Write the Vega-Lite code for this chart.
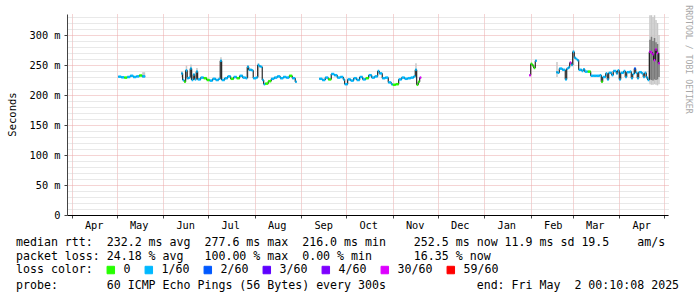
{
  "$schema": "https://vega.github.io/schema/vega-lite/v6.json",
  "width": 601,
  "height": 201,
  "autosize": {"type": "none"},
  "padding": {"left": 67, "top": 14, "right": 29, "bottom": 82},
  "background": "white",
  "config": {"view": {"stroke": null}, "font": "DejaVu Sans Mono"},
  "title": {
    "text": [
      "median\u00a0rtt:\u00a0\u00a0232.2\u00a0ms\u00a0avg\u00a0\u00a0277.6\u00a0ms\u00a0max\u00a0\u00a0216.0\u00a0ms\u00a0min\u00a0\u00a0\u00a0\u00a0252.5\u00a0ms\u00a0now\u00a011.9\u00a0ms\u00a0sd\u00a019.5\u00a0\u00a0\u00a0\u00a0am/s",
      "packet\u00a0loss:\u00a024.18\u00a0%\u00a0avg\u00a0\u00a0\u00a0100.00\u00a0%\u00a0max\u00a0\u00a00.00\u00a0%\u00a0min\u00a0\u00a0\u00a0\u00a0\u00a0\u00a016.35\u00a0%\u00a0now"
    ],
    "subtitle": "probe:\u00a0\u00a0\u00a0\u00a0\u00a0\u00a0\u00a060\u00a0ICMP\u00a0Echo\u00a0Pings\u00a0(56\u00a0Bytes)\u00a0every\u00a0300s\u00a0\u00a0\u00a0\u00a0\u00a0\u00a0\u00a0\u00a0\u00a0\u00a0\u00a0\u00a0\u00a0end:\u00a0Fri\u00a0May\u00a0\u00a02\u00a000:10:08\u00a02025",
    "orient": "bottom",
    "anchor": "start",
    "frame": "group",
    "align": "left",
    "dx": -51,
    "offset": -39,
    "font": "DejaVu Sans Mono",
    "fontSize": 11.6,
    "fontWeight": "normal",
    "color": "#000000",
    "lineHeight": 14.4,
    "subtitleFont": "DejaVu Sans Mono",
    "subtitleFontSize": 11.6,
    "subtitleFontWeight": "normal",
    "subtitleColor": "#000000",
    "subtitleLineHeight": 14.4,
    "subtitlePadding": 17
  },
  "data": {
    "values": [
      {"t": "2024-05-02", "m": 230.5, "c": "1/60", "s": 1},
      {"t": "2024-05-04", "m": 229.5, "c": "1/60", "s": 1},
      {"t": "2024-05-06", "m": 229, "c": "0", "s": 1},
      {"t": "2024-05-08", "m": 230, "c": "1/60", "s": 1},
      {"t": "2024-05-10", "m": 232, "c": "1/60", "s": 1},
      {"t": "2024-05-12", "m": 230, "c": "1/60", "s": 1},
      {"t": "2024-05-14", "m": 231, "c": "1/60", "s": 1},
      {"t": "2024-05-16", "m": 232.5, "c": "0", "s": 1},
      {"t": "2024-05-18", "m": 231, "c": "1/60", "s": 1, "lo": 229, "hi": 238},
      {"t": "2024-05-20", "m": 231, "c": "1/60", "s": 1},

      {"t": "2024-06-13", "m": 236, "c": "1/60", "s": 2, "lo": 230, "hi": 240},
      {"t": "2024-06-14", "m": 225, "c": "1/60", "s": 2},
      {"t": "2024-06-15", "m": 222, "c": "0", "s": 2},
      {"t": "2024-06-16", "m": 241, "c": "1/60", "s": 2, "lo": 226, "hi": 249},
      {"t": "2024-06-17", "m": 228, "c": "1/60", "s": 2},
      {"t": "2024-06-18", "m": 229, "c": "1/60", "s": 2},
      {"t": "2024-06-19", "m": 244, "c": "1/60", "s": 2, "lo": 226, "hi": 251},
      {"t": "2024-06-20", "m": 225, "c": "1/60", "s": 2},
      {"t": "2024-06-21", "m": 234, "c": "1/60", "s": 2},
      {"t": "2024-06-22", "m": 226, "c": "1/60", "s": 2},
      {"t": "2024-06-23", "m": 239, "c": "1/60", "s": 2, "lo": 230, "hi": 245},
      {"t": "2024-06-24", "m": 226, "c": "1/60", "s": 2},
      {"t": "2024-06-26", "m": 229, "c": "1/60", "s": 2},
      {"t": "2024-06-28", "m": 228, "c": "0", "s": 2},
      {"t": "2024-06-30", "m": 225, "c": "0", "s": 2},
      {"t": "2024-07-02", "m": 224, "c": "1/60", "s": 2},
      {"t": "2024-07-04", "m": 227, "c": "1/60", "s": 2},
      {"t": "2024-07-06", "m": 225, "c": "1/60", "s": 2},
      {"t": "2024-07-08", "m": 227, "c": "1/60", "s": 2},
      {"t": "2024-07-09", "m": 257, "c": "1/60", "s": 2, "lo": 226, "hi": 263},
      {"t": "2024-07-10", "m": 225, "c": "1/60", "s": 2},
      {"t": "2024-07-12", "m": 228, "c": "1/60", "s": 2},
      {"t": "2024-07-14", "m": 231, "c": "1/60", "s": 2},
      {"t": "2024-07-16", "m": 227, "c": "0", "s": 2},
      {"t": "2024-07-18", "m": 230, "c": "1/60", "s": 2},
      {"t": "2024-07-20", "m": 228, "c": "0", "s": 2},
      {"t": "2024-07-22", "m": 232, "c": "1/60", "s": 2},
      {"t": "2024-07-24", "m": 229, "c": "1/60", "s": 2},
      {"t": "2024-07-26", "m": 228, "c": "1/60", "s": 2},
      {"t": "2024-07-27", "m": 247, "c": "1/60", "s": 2, "lo": 228, "hi": 250},
      {"t": "2024-07-28", "m": 242, "c": "1/60", "s": 2},
      {"t": "2024-07-30", "m": 241, "c": "1/60", "s": 2},
      {"t": "2024-07-31", "m": 228, "c": "1/60", "s": 2},
      {"t": "2024-08-02", "m": 229, "c": "1/60", "s": 2},
      {"t": "2024-08-03", "m": 250, "c": "1/60", "s": 2, "lo": 230, "hi": 253},
      {"t": "2024-08-04", "m": 248, "c": "1/60", "s": 2},
      {"t": "2024-08-05", "m": 247, "c": "1/60", "s": 2},
      {"t": "2024-08-06", "m": 225, "c": "1/60", "s": 2},
      {"t": "2024-08-07", "m": 218, "c": "1/60", "s": 2},
      {"t": "2024-08-08", "m": 219, "c": "0", "s": 2},
      {"t": "2024-08-10", "m": 223, "c": "0", "s": 2},
      {"t": "2024-08-12", "m": 227, "c": "1/60", "s": 2},
      {"t": "2024-08-14", "m": 229, "c": "1/60", "s": 2},
      {"t": "2024-08-16", "m": 231, "c": "1/60", "s": 2},
      {"t": "2024-08-18", "m": 228, "c": "1/60", "s": 2},
      {"t": "2024-08-20", "m": 230, "c": "1/60", "s": 2},
      {"t": "2024-08-22", "m": 229, "c": "1/60", "s": 2},
      {"t": "2024-08-24", "m": 232, "c": "0", "s": 2},
      {"t": "2024-08-26", "m": 228, "c": "1/60", "s": 2},
      {"t": "2024-08-28", "m": 222, "c": "1/60", "s": 2},
      {"t": "2024-08-29", "m": 222, "c": "1/60", "s": 2},

      {"t": "2024-09-13", "m": 227, "c": "1/60", "s": 3},
      {"t": "2024-09-15", "m": 225, "c": "1/60", "s": 3},
      {"t": "2024-09-17", "m": 229, "c": "1/60", "s": 3},
      {"t": "2024-09-19", "m": 226, "c": "0", "s": 3},
      {"t": "2024-09-21", "m": 235, "c": "1/60", "s": 3},
      {"t": "2024-09-23", "m": 233, "c": "1/60", "s": 3},
      {"t": "2024-09-25", "m": 229, "c": "1/60", "s": 3},
      {"t": "2024-09-27", "m": 230, "c": "1/60", "s": 3},
      {"t": "2024-09-29", "m": 226, "c": "1/60", "s": 3},
      {"t": "2024-09-30", "m": 218, "c": "1/60", "s": 3},
      {"t": "2024-10-02", "m": 226, "c": "1/60", "s": 3},
      {"t": "2024-10-04", "m": 224, "c": "1/60", "s": 3},
      {"t": "2024-10-06", "m": 228, "c": "1/60", "s": 3},
      {"t": "2024-10-08", "m": 225, "c": "1/60", "s": 3},
      {"t": "2024-10-10", "m": 230, "c": "1/60", "s": 3},
      {"t": "2024-10-12", "m": 226, "c": "1/60", "s": 3},
      {"t": "2024-10-14", "m": 228, "c": "0", "s": 3},
      {"t": "2024-10-16", "m": 233, "c": "1/60", "s": 3},
      {"t": "2024-10-18", "m": 229, "c": "1/60", "s": 3},
      {"t": "2024-10-20", "m": 231, "c": "1/60", "s": 3},
      {"t": "2024-10-22", "m": 240, "c": "1/60", "s": 3},
      {"t": "2024-10-23", "m": 236, "c": "1/60", "s": 3},
      {"t": "2024-10-25", "m": 228, "c": "1/60", "s": 3},
      {"t": "2024-10-27", "m": 229, "c": "1/60", "s": 3},
      {"t": "2024-10-29", "m": 221, "c": "1/60", "s": 3},
      {"t": "2024-10-31", "m": 218, "c": "1/60", "s": 3},
      {"t": "2024-11-01", "m": 217, "c": "0", "s": 3},
      {"t": "2024-11-03", "m": 218, "c": "0", "s": 3},
      {"t": "2024-11-05", "m": 226, "c": "1/60", "s": 3},
      {"t": "2024-11-07", "m": 229, "c": "1/60", "s": 3},
      {"t": "2024-11-09", "m": 227, "c": "1/60", "s": 3},
      {"t": "2024-11-11", "m": 228, "c": "1/60", "s": 3},
      {"t": "2024-11-13", "m": 229, "c": "1/60", "s": 3},
      {"t": "2024-11-15", "m": 231, "c": "1/60", "s": 3},
      {"t": "2024-11-16", "m": 242, "c": "1/60", "s": 3, "lo": 228, "hi": 253},
      {"t": "2024-11-17", "m": 217, "c": "0", "s": 3},
      {"t": "2024-11-18", "m": 222, "c": "0", "s": 3},
      {"t": "2024-11-19", "m": 229, "c": "30/60", "s": 3},
      {"t": "2024-11-20", "m": 229, "c": "30/60", "s": 3},

      {"t": "2025-01-31", "m": 233, "c": "30/60", "s": 4},
      {"t": "2025-02-01", "m": 252, "c": "0", "s": 4},
      {"t": "2025-02-02", "m": 249, "c": "0", "s": 4},
      {"t": "2025-02-03", "m": 245, "c": "0", "s": 4},
      {"t": "2025-02-04", "m": 257, "c": "1/60", "s": 4},
      {"t": "2025-02-05", "m": 257, "c": "1/60", "s": 4},

      {"t": "2025-02-18", "m": 238, "c": "1/60", "s": 5, "lo": 230, "hi": 255},
      {"t": "2025-02-19", "m": 237, "c": "1/60", "s": 5},
      {"t": "2025-02-20", "m": 244, "c": "1/60", "s": 5},
      {"t": "2025-02-22", "m": 242, "c": "1/60", "s": 5},
      {"t": "2025-02-24", "m": 226, "c": "1/60", "s": 5},
      {"t": "2025-02-25", "m": 244, "c": "1/60", "s": 5},
      {"t": "2025-02-26", "m": 246, "c": "1/60", "s": 5},
      {"t": "2025-02-27", "m": 254, "c": "30/60", "s": 5},
      {"t": "2025-02-28", "m": 250, "c": "1/60", "s": 5},
      {"t": "2025-03-01", "m": 272, "c": "1/60", "s": 5, "lo": 250, "hi": 275},
      {"t": "2025-03-02", "m": 262, "c": "1/60", "s": 5},
      {"t": "2025-03-03", "m": 260, "c": "1/60", "s": 5},
      {"t": "2025-03-04", "m": 258, "c": "1/60", "s": 5},
      {"t": "2025-03-05", "m": 242, "c": "1/60", "s": 5},
      {"t": "2025-03-07", "m": 240, "c": "1/60", "s": 5},
      {"t": "2025-03-08", "m": 243, "c": "1/60", "s": 5},
      {"t": "2025-03-09", "m": 239, "c": "1/60", "s": 5},
      {"t": "2025-03-11", "m": 239, "c": "0", "s": 5},
      {"t": "2025-03-13", "m": 232, "c": "1/60", "s": 5},
      {"t": "2025-03-15", "m": 232, "c": "1/60", "s": 5},
      {"t": "2025-03-17", "m": 232, "c": "1/60", "s": 5},
      {"t": "2025-03-19", "m": 233, "c": "1/60", "s": 5},
      {"t": "2025-03-20", "m": 222, "c": "0", "s": 5},
      {"t": "2025-03-21", "m": 230, "c": "1/60", "s": 5},
      {"t": "2025-03-23", "m": 236, "c": "1/60", "s": 5},
      {"t": "2025-03-24", "m": 226, "c": "1/60", "s": 5},
      {"t": "2025-03-25", "m": 237, "c": "1/60", "s": 5},
      {"t": "2025-03-27", "m": 233, "c": "1/60", "s": 5},
      {"t": "2025-03-28", "m": 240, "c": "1/60", "s": 5},
      {"t": "2025-03-30", "m": 236, "c": "1/60", "s": 5},
      {"t": "2025-03-31", "m": 241, "c": "1/60", "s": 5},
      {"t": "2025-04-01", "m": 226, "c": "1/60", "s": 5},
      {"t": "2025-04-02", "m": 237, "c": "1/60", "s": 5},
      {"t": "2025-04-04", "m": 240, "c": "1/60", "s": 5},
      {"t": "2025-04-05", "m": 230, "c": "1/60", "s": 5},
      {"t": "2025-04-06", "m": 238, "c": "1/60", "s": 5},
      {"t": "2025-04-08", "m": 239, "c": "1/60", "s": 5},
      {"t": "2025-04-09", "m": 228, "c": "1/60", "s": 5},
      {"t": "2025-04-10", "m": 235, "c": "1/60", "s": 5},
      {"t": "2025-04-11", "m": 244, "c": "2/60", "s": 5},
      {"t": "2025-04-12", "m": 237, "c": "1/60", "s": 5},
      {"t": "2025-04-13", "m": 228, "c": "1/60", "s": 5},
      {"t": "2025-04-14", "m": 238, "c": "1/60", "s": 5},
      {"t": "2025-04-16", "m": 236, "c": "1/60", "s": 5},
      {"t": "2025-04-17", "m": 230, "c": "1/60", "s": 5},
      {"t": "2025-04-18", "m": 237, "c": "1/60", "s": 5},
      {"t": "2025-04-19", "m": 229, "c": "1/60", "s": 5},
      {"t": "2025-04-20", "m": 225, "c": "1/60", "s": 5},
      {"t": "2025-04-21", "m": 272, "c": "30/60", "s": 5, "lo": 218, "hi": 333, "ilo": 226, "ihi": 292},
      {"t": "2025-04-22", "m": 271, "c": "30/60", "s": 5, "lo": 217, "hi": 333, "ilo": 225, "ihi": 297},
      {"t": "2025-04-23", "m": 268, "c": "30/60", "s": 5, "lo": 217, "hi": 330, "ilo": 224, "ihi": 290},
      {"t": "2025-04-24", "m": 258, "c": "30/60", "s": 5, "lo": 218, "hi": 333, "ilo": 226, "ihi": 295},
      {"t": "2025-04-25", "m": 276, "c": "30/60", "s": 5, "lo": 217, "hi": 325, "ilo": 225, "ihi": 288},
      {"t": "2025-04-26", "m": 270, "c": "30/60", "s": 5, "lo": 216, "hi": 320, "ilo": 226, "ihi": 285},
      {"t": "2025-04-27", "m": 253, "c": "30/60", "s": 5, "lo": 218, "hi": 300, "ilo": 230, "ihi": 270},
      {"t": "2025-04-28", "m": 253, "c": "30/60", "s": 5}
    ]
  },
  "encoding": {
    "x": {
      "field": "t",
      "type": "temporal",
      "scale": {
        "type": "utc",
        "domain": [
          {"year": 2024, "month": 3, "date": 28, "hours": 21, "utc": true},
          {"year": 2025, "month": 5, "date": 3, "hours": 12, "utc": true}
        ]
      },
      "axis": {
        "title": null,
        "values": [
          {"year": 2024, "month": 4, "date": 1, "utc": true},
          {"year": 2024, "month": 5, "date": 1, "utc": true},
          {"year": 2024, "month": 6, "date": 1, "utc": true},
          {"year": 2024, "month": 7, "date": 1, "utc": true},
          {"year": 2024, "month": 8, "date": 1, "utc": true},
          {"year": 2024, "month": 9, "date": 1, "utc": true},
          {"year": 2024, "month": 10, "date": 1, "utc": true},
          {"year": 2024, "month": 11, "date": 1, "utc": true},
          {"year": 2024, "month": 12, "date": 1, "utc": true},
          {"year": 2025, "month": 1, "date": 1, "utc": true},
          {"year": 2025, "month": 2, "date": 1, "utc": true},
          {"year": 2025, "month": 3, "date": 1, "utc": true},
          {"year": 2025, "month": 4, "date": 1, "utc": true},
          {"year": 2025, "month": 5, "date": 1, "utc": true}
        ],
        "labelExpr": "datum.value >= utc(2025,4,1) ? '' : utcFormat(datum.value, '%b')",
        "labelOffset": 22,
        "labelAlign": "center",
        "labelFlush": false,
        "labelOverlap": false,
        "labelBound": false,
        "labelFont": "DejaVu Sans Mono",
        "labelFontSize": 10.3,
        "labelColor": "#000000",
        "labelPadding": 2,
        "tickSize": 3,
        "tickColor": "#444444",
        "domainColor": "#000000",
        "grid": true,
        "gridColor": "#eaa8a8",
        "gridDash": [1, 1]
      }
    }
  },
  "resolve": {"axis": {"y": "independent"}},
  "layer": [
    {
      "transform": [
        {"window": [{"op": "lead", "field": "t", "as": "t2"}], "groupby": ["s"], "sort": [{"field": "t", "order": "ascending"}]},
        {"filter": "isValid(datum.hi) && isValid(datum.t2)"}
      ],
      "mark": {"type": "rect", "color": "#c8c8c8"},
      "encoding": {
        "x2": {"field": "t2"},
        "y": {
          "field": "lo",
          "type": "quantitative",
          "scale": {"domain": [0, 335]},
          "axis": {
            "orient": "left",
            "title": "Seconds",
            "values": [0, 10, 20, 30, 40, 50, 60, 70, 80, 90, 100, 110, 120, 130, 140, 150, 160, 170, 180, 190, 200, 210, 220, 230, 240, 250, 260, 270, 280, 290, 300, 310, 320, 330],
            "labelExpr": "datum.value % 50 === 0 ? (datum.value === 0 ? '0' : datum.value + ' m') : ''",
            "labelFont": "DejaVu Sans Mono",
            "labelFontSize": 10.3,
            "labelColor": "#000000",
            "labelPadding": 4,
            "labelOverlap": false,
            "labelBound": false,
            "labelFlush": false,
            "grid": true,
            "gridColor": {"condition": {"test": "datum.value % 50 === 0", "value": "#eaa8a8"}, "value": "#d2d2d2"},
            "gridDash": [1, 1],
            "tickSize": 3,
            "tickColor": "#444444",
            "tickOpacity": {"condition": {"test": "datum.value % 50 === 0", "value": 1}, "value": 0},
            "domainColor": "#444444",
            "titleFont": "DejaVu Sans Mono",
            "titleFontSize": 10.5,
            "titleFontWeight": "normal",
            "titleColor": "#000000",
            "titleX": -55,
            "titleY": 100,
            "titleAngle": 270,
            "titleAlign": "center",
            "titleBaseline": "middle"
          }
        },
        "y2": {"field": "hi"}
      }
    },
    {
      "transform": [
        {"window": [{"op": "lead", "field": "t", "as": "t2"}], "groupby": ["s"], "sort": [{"field": "t", "order": "ascending"}]},
        {"filter": "isValid(datum.ihi) && isValid(datum.t2)"}
      ],
      "mark": {"type": "rect", "color": "#7a7a7a"},
      "encoding": {
        "x2": {"field": "t2"},
        "y": {"field": "ilo", "type": "quantitative", "scale": {"domain": [0, 335]}, "axis": null},
        "y2": {"field": "ihi"}
      }
    },
    {
      "mark": {"type": "line", "interpolate": "step-after", "color": "#000000", "strokeWidth": 1},
      "encoding": {
        "detail": {"field": "s", "type": "nominal"},
        "y": {
          "field": "m",
          "type": "quantitative",
          "scale": {"domain": [0, 335]},
          "axis": {
            "orient": "right",
            "title": "RRDTOOL / TOBI OETIKER",
            "labels": false,
            "ticks": false,
            "domain": false,
            "grid": false,
            "titleFont": "DejaVu Sans Mono",
            "titleFontSize": 8.2,
            "titleFontWeight": "normal",
            "titleColor": "#a8a8a8",
            "titleAngle": 90,
            "titleX": 19,
            "titleY": 45,
            "titleAlign": "center",
            "titleBaseline": "middle"
          }
        }
      }
    },
    {
      "transform": [
        {"window": [{"op": "lead", "field": "t", "as": "t2"}], "groupby": ["s"], "sort": [{"field": "t", "order": "ascending"}]},
        {"filter": "isValid(datum.t2)"}
      ],
      "mark": {"type": "rule", "strokeWidth": 2.5, "strokeCap": "butt"},
      "encoding": {
        "x2": {"field": "t2"},
        "y": {"field": "m", "type": "quantitative", "scale": {"domain": [0, 335]}, "axis": null},
        "color": {
          "field": "c",
          "type": "nominal",
          "scale": {
            "domain": ["0", "1/60", "2/60", "3/60", "4/60", "30/60", "59/60"],
            "range": ["#26ff00", "#00b8ff", "#0059ff", "#5e00ff", "#7e00ff", "#dd00ff", "#ff0000"]
          },
          "legend": {
            "title": "loss color:",
            "orient": "none",
            "legendX": -51,
            "legendY": 250,
            "direction": "horizontal",
            "columns": 7,
            "titleOrient": "left",
            "titleFont": "DejaVu Sans Mono",
            "titleFontSize": 11.6,
            "titleFontWeight": "normal",
            "titleColor": "#000000",
            "titlePadding": 12,
            "labelFont": "DejaVu Sans Mono",
            "labelFontSize": 11.6,
            "labelColor": "#000000",
            "labelOffset": 7,
            "columnPadding": 12,
            "symbolType": "square",
            "symbolSize": 56,
            "symbolStrokeWidth": 1,
            "symbolStrokeColor": "#000000",
            "encode": {
              "symbols": {
                "update": {
                  "fill": {"scale": "color", "field": "value"},
                  "stroke": {"value": "#000000"},
                  "strokeWidth": {"value": 1},
                  "opacity": {"value": 1}
                }
              }
            }
          }
        }
      }
    },
    {
      "data": {"values": [{"arrow": "x"}]},
      "mark": {"type": "point", "shape": "triangle-right", "filled": true, "size": 40, "color": "#9b1c1c", "opacity": 1},
      "encoding": {
        "x": {"datum": {"year": 2025, "month": 5, "date": 5, "hours": 6, "utc": true}, "type": "temporal"},
        "y": {"datum": 0, "type": "quantitative", "scale": {"domain": [0, 335]}, "axis": null}
      }
    },
    {
      "data": {"values": [{"arrow": "y"}]},
      "mark": {"type": "point", "shape": "triangle-up", "filled": true, "size": 40, "color": "#9b1c1c", "opacity": 1},
      "encoding": {
        "x": {"datum": {"year": 2024, "month": 3, "date": 28, "hours": 21, "utc": true}, "type": "temporal"},
        "y": {"datum": 341, "type": "quantitative", "scale": {"domain": [0, 335]}, "axis": null}
      }
    }
  ]
}
